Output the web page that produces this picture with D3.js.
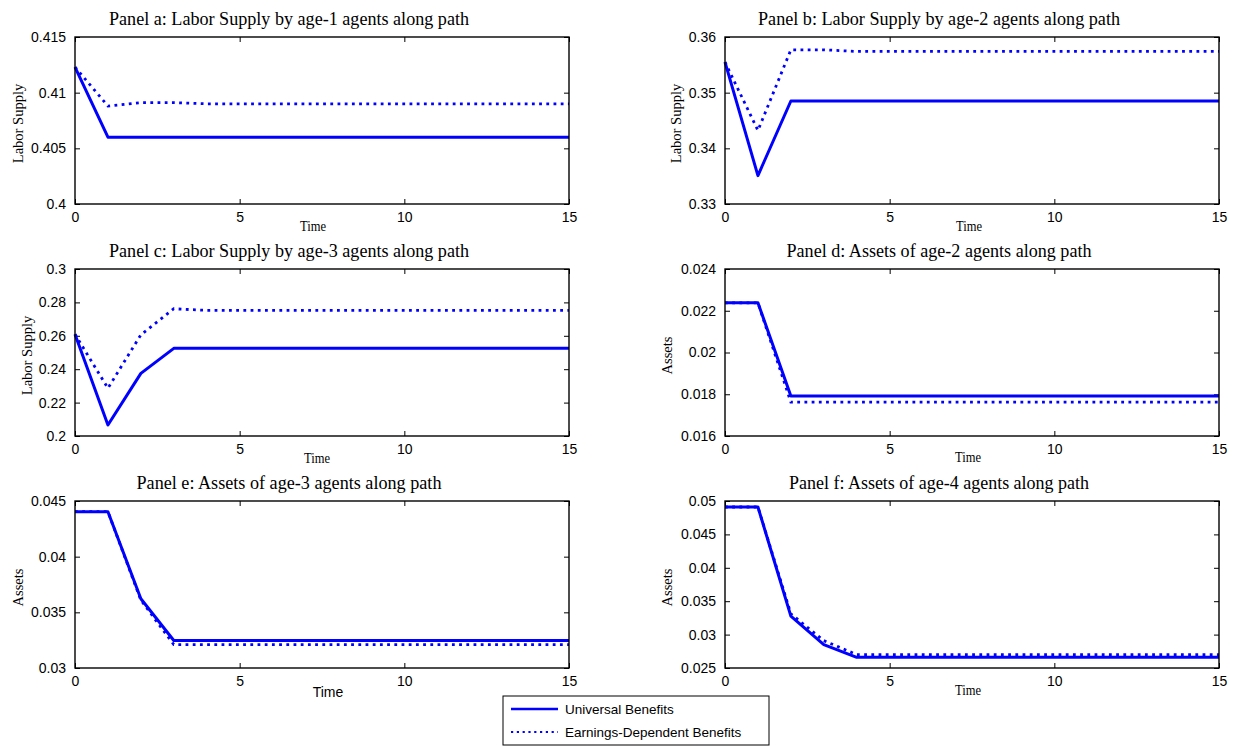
<!DOCTYPE html>
<html>
<head>
<meta charset="utf-8">
<script src="https://cdn.jsdelivr.net/npm/d3@7"></script>
<style>
  body { margin: 0; background: #fff; }
</style>
</head>
<body>
<div class="graphic"></div>
<script>
// --- data ---
const time = [0, 1, 2, 3, 4, 5, 6, 7, 8, 9, 10, 11, 12, 13, 14, 15];
const xTicks = [0, 5, 10, 15];

const univA = [0.4123, 0.406, 0.406, 0.406, 0.406, 0.406, 0.406, 0.406, 0.406, 0.406, 0.406, 0.406, 0.406, 0.406, 0.406, 0.406];
const earnA = [0.4123, 0.4088, 0.4091, 0.4091, 0.409, 0.409, 0.409, 0.409, 0.409, 0.409, 0.409, 0.409, 0.409, 0.409, 0.409, 0.409];
const ticksA = [0.4, 0.405, 0.41, 0.415];

const univB = [0.3555, 0.3351, 0.3485, 0.3485, 0.3485, 0.3485, 0.3485, 0.3485, 0.3485, 0.3485, 0.3485, 0.3485, 0.3485, 0.3485, 0.3485, 0.3485];
const earnB = [0.3555, 0.3432, 0.3577, 0.3577, 0.3574, 0.3574, 0.3574, 0.3574, 0.3574, 0.3574, 0.3574, 0.3574, 0.3574, 0.3574, 0.3574, 0.3574];
const ticksB = [0.33, 0.34, 0.35, 0.36];

const univC = [0.2609, 0.2066, 0.2375, 0.2525, 0.2525, 0.2525, 0.2525, 0.2525, 0.2525, 0.2525, 0.2525, 0.2525, 0.2525, 0.2525, 0.2525, 0.2525];
const earnC = [0.2609, 0.2286, 0.2606, 0.2762, 0.2752, 0.2752, 0.2752, 0.2752, 0.2752, 0.2752, 0.2752, 0.2752, 0.2752, 0.2752, 0.2752, 0.2752];
const ticksC = [0.2, 0.22, 0.24, 0.26, 0.28, 0.3];

const univD = [0.02238, 0.02238, 0.01792, 0.01792, 0.01792, 0.01792, 0.01792, 0.01792, 0.01792, 0.01792, 0.01792, 0.01792, 0.01792, 0.01792, 0.01792, 0.01792];
const earnD = [0.02238, 0.02238, 0.01762, 0.01762, 0.01762, 0.01762, 0.01762, 0.01762, 0.01762, 0.01762, 0.01762, 0.01762, 0.01762, 0.01762, 0.01762, 0.01762];
const ticksD = [0.016, 0.018, 0.02, 0.022, 0.024];

const univE = [0.04404, 0.04404, 0.03622, 0.03247, 0.03247, 0.03247, 0.03247, 0.03247, 0.03247, 0.03247, 0.03247, 0.03247, 0.03247, 0.03247, 0.03247, 0.03247];
const earnE = [0.04404, 0.04404, 0.0361, 0.0321, 0.0321, 0.0321, 0.0321, 0.0321, 0.0321, 0.0321, 0.0321, 0.0321, 0.0321, 0.0321, 0.0321, 0.0321];
const ticksE = [0.03, 0.035, 0.04, 0.045];

const univF = [0.0491, 0.0491, 0.03277, 0.02851, 0.0266, 0.0266, 0.0266, 0.0266, 0.0266, 0.0266, 0.0266, 0.0266, 0.0266, 0.0266, 0.0266, 0.0266];
const earnF = [0.0491, 0.0491, 0.0331, 0.0291, 0.027, 0.027, 0.027, 0.027, 0.027, 0.027, 0.027, 0.027, 0.027, 0.027, 0.027, 0.027];
const ticksF = [0.025, 0.03, 0.035, 0.04, 0.045, 0.05];

const seriesNames = ["Universal Benefits", "Earnings-Dependent Benefits"];

// --- layout ---
const width = 1246, height = 747;
const colX = [75, 725], rowY = [37, 269, 501];
const pw = 494, ph = 167;
const blue = "#0000ff";
const serif = "Liberation Serif, Times New Roman, serif";
const sans = "Liberation Sans, Arial, sans-serif";

const panels = [
  { title: "Panel a: Labor Supply by age-1 agents along path", yLabel: "Labor Supply", univ: univA, earn: earnA, ticks: ticksA, col: 0, row: 0, tw: 360, ylx: -57, tx: 238, ty: 22, timeSans: false },
  { title: "Panel b: Labor Supply by age-2 agents along path", yLabel: "Labor Supply", univ: univB, earn: earnB, ticks: ticksB, col: 1, row: 0, tw: 362, ylx: -49, tx: 244, ty: 22, timeSans: false },
  { title: "Panel c: Labor Supply by age-3 agents along path", yLabel: "Labor Supply", univ: univC, earn: earnC, ticks: ticksC, col: 0, row: 1, tw: 360, ylx: -48, tx: 242, ty: 22, timeSans: false },
  { title: "Panel d: Assets of age-2 agents along path", yLabel: "Assets", univ: univD, earn: earnD, ticks: ticksD, col: 1, row: 1, tw: 305, ylx: -58, tx: 243, ty: 21, timeSans: false },
  { title: "Panel e: Assets of age-3 agents along path", yLabel: "Assets", univ: univE, earn: earnE, ticks: ticksE, col: 0, row: 2, tw: 305, ylx: -57, tx: 253, ty: 24, timeSans: true },
  { title: "Panel f: Assets of age-4 agents along path", yLabel: "Assets", univ: univF, earn: earnF, ticks: ticksF, col: 1, row: 2, tw: 300, ylx: -58, tx: 243, ty: 22, timeSans: false }
];

const fmt = d3.format("~g");

const svg = d3.select(".graphic").append("svg")
  .attr("width", width)
  .attr("height", height)
  .style("background", "#fff");

const x = d3.scaleLinear().domain([0, 15]).range([0, pw]);

panels.forEach(p => {
  const g = svg.append("g").attr("transform", `translate(${colX[p.col]},${rowY[p.row]})`);
  const y = d3.scaleLinear().domain(d3.extent(p.ticks)).range([ph, 0]);

  const styleAxis = a => {
    a.select(".domain").remove();
    a.selectAll(".tick line").attr("stroke", "#000").attr("stroke-width", 1);
    a.selectAll(".tick text").attr("font-family", sans).attr("font-size", 14).attr("fill", "#000");
  };

  g.append("g").attr("transform", `translate(0,${ph})`)
    .call(d3.axisBottom(x).tickValues(xTicks).tickSize(-5).tickPadding(8).tickFormat(fmt))
    .call(styleAxis);
  g.append("g")
    .call(d3.axisTop(x).tickValues(xTicks).tickSize(-5).tickFormat(""))
    .call(styleAxis);
  g.append("g")
    .call(d3.axisLeft(y).tickValues(p.ticks).tickSize(-5).tickPadding(9).tickFormat(fmt))
    .call(styleAxis);
  g.append("g").attr("transform", `translate(${pw},0)`)
    .call(d3.axisRight(y).tickValues(p.ticks).tickSize(-5).tickFormat(""))
    .call(styleAxis);

  const line = d3.line().x((d, i) => x(time[i])).y(d => y(d));

  g.append("path").datum(p.univ)
    .attr("d", line)
    .attr("fill", "none")
    .attr("stroke", blue)
    .attr("stroke-width", 3)
    .attr("stroke-linejoin", "round");

  g.append("path").datum(p.earn)
    .attr("d", line)
    .attr("fill", "none")
    .attr("stroke", blue)
    .attr("stroke-width", 2.8)
    .attr("stroke-dasharray", "2.8 4.4");

  g.append("rect")
    .attr("width", pw).attr("height", ph)
    .attr("fill", "none")
    .attr("stroke", "#000")
    .attr("stroke-width", 1.4);

  // title
  g.append("text")
    .attr("x", 214).attr("y", -19)
    .attr("text-anchor", "middle")
    .attr("dominant-baseline", "central")
    .attr("font-family", serif)
    .attr("font-size", 19)
    .attr("textLength", p.tw)
    .attr("lengthAdjust", "spacingAndGlyphs")
    .text(p.title);

  // y label
  g.append("text")
    .attr("transform", `translate(${p.ylx},${ph / 2 + 3}) rotate(-90)`)
    .attr("text-anchor", "middle")
    .attr("dominant-baseline", "central")
    .attr("font-family", serif)
    .attr("font-size", 14.5)
    .text(p.yLabel);

  // x label
  const t = g.append("text")
    .attr("x", p.tx).attr("y", ph + p.ty)
    .attr("text-anchor", "middle")
    .attr("dominant-baseline", "central")
    .attr("font-family", p.timeSans ? sans : serif)
    .attr("font-size", 14)
    .text("Time");
  if (!p.timeSans) t.attr("textLength", 26).attr("lengthAdjust", "spacingAndGlyphs");
});

// legend
const lg = svg.append("g").attr("transform", "translate(503,696)");
lg.append("rect")
  .attr("width", 266).attr("height", 49)
  .attr("fill", "#fff")
  .attr("stroke", "#000")
  .attr("stroke-width", 1);

seriesNames.forEach((name, i) => {
  const yy = 13 + i * 23;
  lg.append("line")
    .attr("x1", 8).attr("x2", 55)
    .attr("y1", yy).attr("y2", yy)
    .attr("stroke", blue)
    .attr("stroke-width", i === 0 ? 2.5 : 2.2)
    .attr("stroke-dasharray", i === 0 ? null : "2.2 3.6");
  lg.append("text")
    .attr("x", 62).attr("y", yy)
    .attr("dominant-baseline", "central")
    .attr("font-family", sans)
    .attr("font-size", 13.5)
    .text(name);
});
</script>
</body>
</html>
